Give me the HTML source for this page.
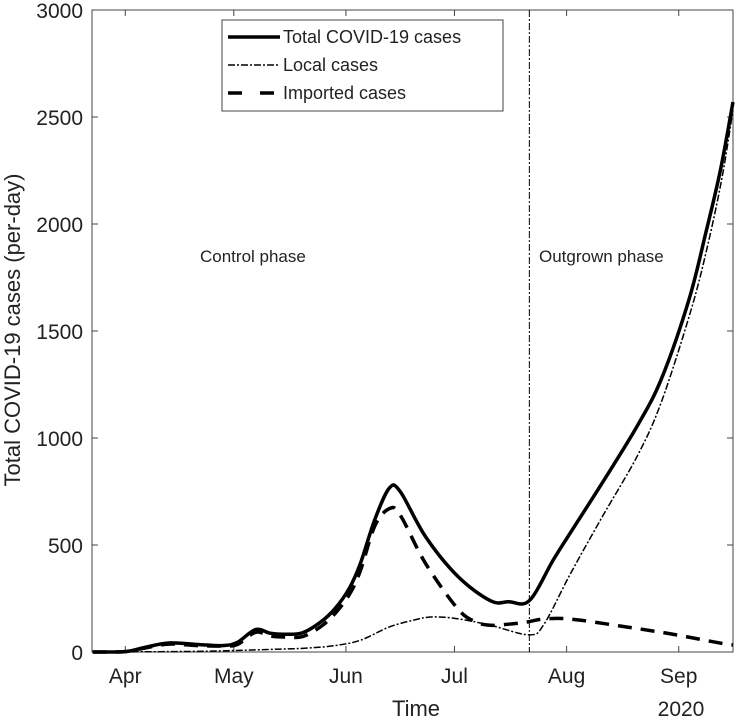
<!DOCTYPE html>
<html><head><meta charset="utf-8"><style>
body{margin:0;background:#fff;}
svg text{font-family:"Liberation Sans",Arial,sans-serif;fill:#222;}
</style></head><body>
<svg id="chart" width="738" height="719" viewBox="0 0 738 719" xmlns="http://www.w3.org/2000/svg">
<g id="axes"></g>
<g id="series"></g>
<text x="20" y="330" font-size="22" text-anchor="middle" transform="rotate(-90 20 330)">Total COVID-19 cases (per-day)</text>
<text x="416" y="716" font-size="22" text-anchor="middle">Time</text>
<text x="681" y="716" font-size="21" text-anchor="middle">2020</text>
<text x="200" y="262" font-size="17">Control phase</text>
<text x="539" y="262" font-size="17">Outgrown phase</text>
<g>
<rect x="222" y="20" width="281" height="91" fill="#fff" stroke="#444" stroke-width="1"/>
<line x1="228" y1="37" x2="280" y2="37" stroke="#000" stroke-width="3.5"/>
<text x="283" y="43" font-size="18">Total COVID-19 cases</text>
<line x1="228" y1="65" x2="280" y2="65" stroke="#000" stroke-width="1.5" stroke-dasharray="7,2,2,2"/>
<text x="283" y="71" font-size="18">Local cases</text>
<line x1="228" y1="93" x2="280" y2="93" stroke="#000" stroke-width="3.5" stroke-dasharray="14,18"/>
<text x="283" y="99" font-size="18">Imported cases</text>
</g>
</svg>
<script>
const yTicks=[0,500,1000,1500,2000,2500,3000];
const monthLabels=["Apr","May","Jun","Jul","Aug","Sep"];
const monthDays=[0,30,61,91,122,153];
const phaseDay=111.7;
const totalDays=[-9,0,5,12,20,27,31,36,40,44,49,54,58,62,65,69,73,76,83,92,101,106,111.7,118.3,123,132,141.7,148.3,155.8,160.5,164.5,168];
const totalVals=[0,2,20,42,35,30,45,105,88,83,90,140,203,300,414,620,766,750,539,352,239,235,240,430,556,794,1061,1280,1645,1960,2250,2570];
const localDays=[-9,20,40,50,58,65,73,80,85,92,101,111.7,115.8,123,132,141.7,148.3,156.4,161,165,168];
const localVals=[0,3,12,18,30,55,117,150,164,155,125,80,131,364,636,921,1173,1598,1900,2220,2533];
const importDays=[-9,0,5,12,20,27,31,36,40,44,49,54,58,62,65,69,73,76,83,92,97,101,106,111,115.6,123,137,151,165,168];
const importVals=[0,2,17,37,30,28,35,92,75,70,72,118,180,270,380,590,670,640,414,200,140,125,130,140,154,154,121,84,40,33];

const L=92,R=733,T=10,B=652,d0=-9.2,d1=168;
const xS=d=>L+(d-d0)/(d1-d0)*(R-L);
const yS=v=>B-v/3000*(B-T);
const NS="http://www.w3.org/2000/svg";
const axes=document.getElementById('axes'),ser=document.getElementById('series');
function mk(tag,attrs,parent){const e=document.createElementNS(NS,tag);for(const k in attrs)e.setAttribute(k,attrs[k]);parent.appendChild(e);return e;}
const box=mk('rect',{x:L,y:T,width:R-L,height:B-T,fill:'none',stroke:'#444','stroke-width':1},axes);


yTicks.forEach(v=>{
  const y=yS(v);
  mk('line',{x1:L,x2:L+6,y1:y,y2:y,stroke:'#444'},axes);
  mk('line',{x1:R,x2:R-6,y1:y,y2:y,stroke:'#444'},axes);
  const t=mk('text',{x:L-9,y:y+8,'font-size':21,'text-anchor':'end'},axes);
  t.textContent=v;
  
  
});
monthDays.forEach((d,i)=>{
  const x=xS(d);
  mk('line',{x1:x,x2:x,y1:B,y2:B-6,stroke:'#444'},axes);
  mk('line',{x1:x,x2:x,y1:T,y2:T+6,stroke:'#444'},axes);
  const t=mk('text',{x:x,y:B+31,'font-size':21,'text-anchor':'middle'},axes);
  t.textContent=monthLabels[i];
  
  
});
const pl=mk('line',{x1:xS(phaseDay),x2:xS(phaseDay),y1:T,y2:B,stroke:'#000','stroke-width':1,'stroke-dasharray':'7,2,2,2'},axes);


function path(ds,vs){
  const p=ds.map((d,i)=>[xS(d),yS(vs[i])]);
  let s='M'+p[0][0]+','+p[0][1];
  for(let i=0;i<p.length-1;i++){
    const p0=p[Math.max(i-1,0)],p1=p[i],p2=p[i+1],p3=p[Math.min(i+2,p.length-1)];
    const c1=[p1[0]+(p2[0]-p0[0])/6,p1[1]+(p2[1]-p0[1])/6];
    const c2=[p2[0]-(p3[0]-p1[0])/6,p2[1]-(p3[1]-p1[1])/6];
    s+=' C'+c1+' '+c2+' '+p2;
  }
  return s;
}
const imp=mk('path',{d:path(importDays,importVals),fill:'none',stroke:'#000','stroke-width':3.5,'stroke-dasharray':'14,9'},ser);


const loc=mk('path',{d:path(localDays,localVals),fill:'none',stroke:'#000','stroke-width':1.5,'stroke-dasharray':'7,2,2,2'},ser);


const tot=mk('path',{d:path(totalDays,totalVals),fill:'none',stroke:'#000','stroke-width':3.5},ser);


</script>
</body></html>
